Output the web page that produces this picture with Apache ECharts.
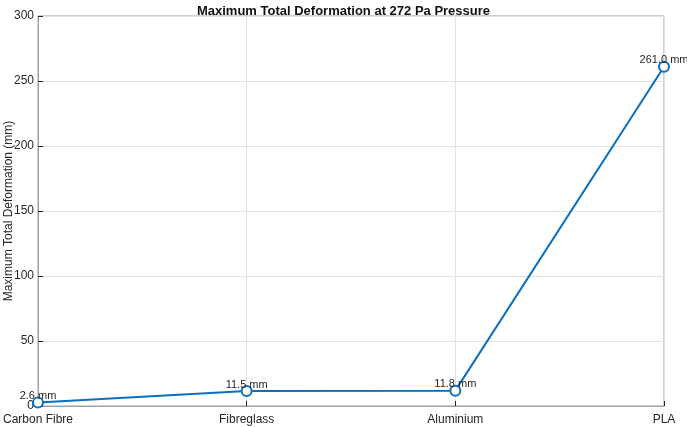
<!DOCTYPE html>
<html>
<head>
<meta charset="utf-8">
<script src="https://cdn.jsdelivr.net/npm/echarts@6/dist/echarts.min.js"></script>
<style>
  html, body { margin: 0; padding: 0; background: #fff; }
  #chart { width: 687px; height: 427px; }
</style>
</head>
<body>
<div id="chart"></div>
<script>
    var materials = ['Carbon Fibre', 'Fibreglass', 'Aluminium', 'PLA'];
    var deformation = [2.6, 11.5, 11.8, 261.0];
    var yTicks = [0, 50, 100, 150, 200, 250, 300];

    (function () {
        var chart = echarts.init(document.getElementById('chart'));
        var font = 'Liberation Sans, Arial, sans-serif';
        var lineColor = '#0b6fc0';

        var option = {
            backgroundColor: '#fff',
            textStyle: { fontFamily: font },
            title: {
                text: 'Maximum Total Deformation at 272 Pa Pressure',
                left: 'center',
                top: 0,
                textStyle: { fontFamily: font, fontSize: 13, fontWeight: 'bold', color: '#111' }
            },
            grid: {
                left: 38, right: 23, top: 16, bottom: 21,
                outerBoundsMode: 'none',
                containLabel: false,
                show: true, borderColor: '#a0a0a0', borderWidth: 1
            },
            xAxis: {
                type: 'category',
                data: materials,
                boundaryGap: false,
                axisLine: { lineStyle: { color: '#a0a0a0', width: 1 } },
                axisTick: { inside: true, length: 5, lineStyle: { color: '#262626' } },
                axisLabel: { color: '#262626', fontSize: 12, margin: 8 },
                splitLine: { show: true, lineStyle: { color: '#e2e2e2', width: 1 } }
            },
            yAxis: {
                type: 'value',
                min: yTicks[0],
                max: yTicks[yTicks.length - 1],
                interval: yTicks[1] - yTicks[0],
                name: 'Maximum Total Deformation (mm)',
                nameLocation: 'middle',
                nameGap: 23,
                nameMoveOverlap: false,
                nameTextStyle: { color: '#262626', fontSize: 12 },
                axisLine: { show: true, lineStyle: { color: '#a0a0a0', width: 1 } },
                axisTick: { show: true, inside: true, length: 5, lineStyle: { color: '#262626' } },
                axisLabel: { color: '#262626', fontSize: 12, margin: 4 },
                splitLine: { show: true, lineStyle: { color: '#e2e2e2', width: 1 } }
            },
            series: [{
                type: 'line',
                data: deformation,
                symbol: 'circle',
                symbolSize: 10,
                showAllSymbol: true,
                lineStyle: { color: lineColor, width: 2 },
                itemStyle: { color: '#fff', borderColor: lineColor, borderWidth: 2 },
                label: {
                    show: true,
                    position: 'top',
                    distance: -5,
                    color: '#262626',
                    fontSize: 11,
                    formatter: function (p) { return p.value.toFixed(1) + ' mm'; }
                },
                z: 5
            }]
        };
        chart.setOption(option);
    }());
</script>
</body>
</html>
